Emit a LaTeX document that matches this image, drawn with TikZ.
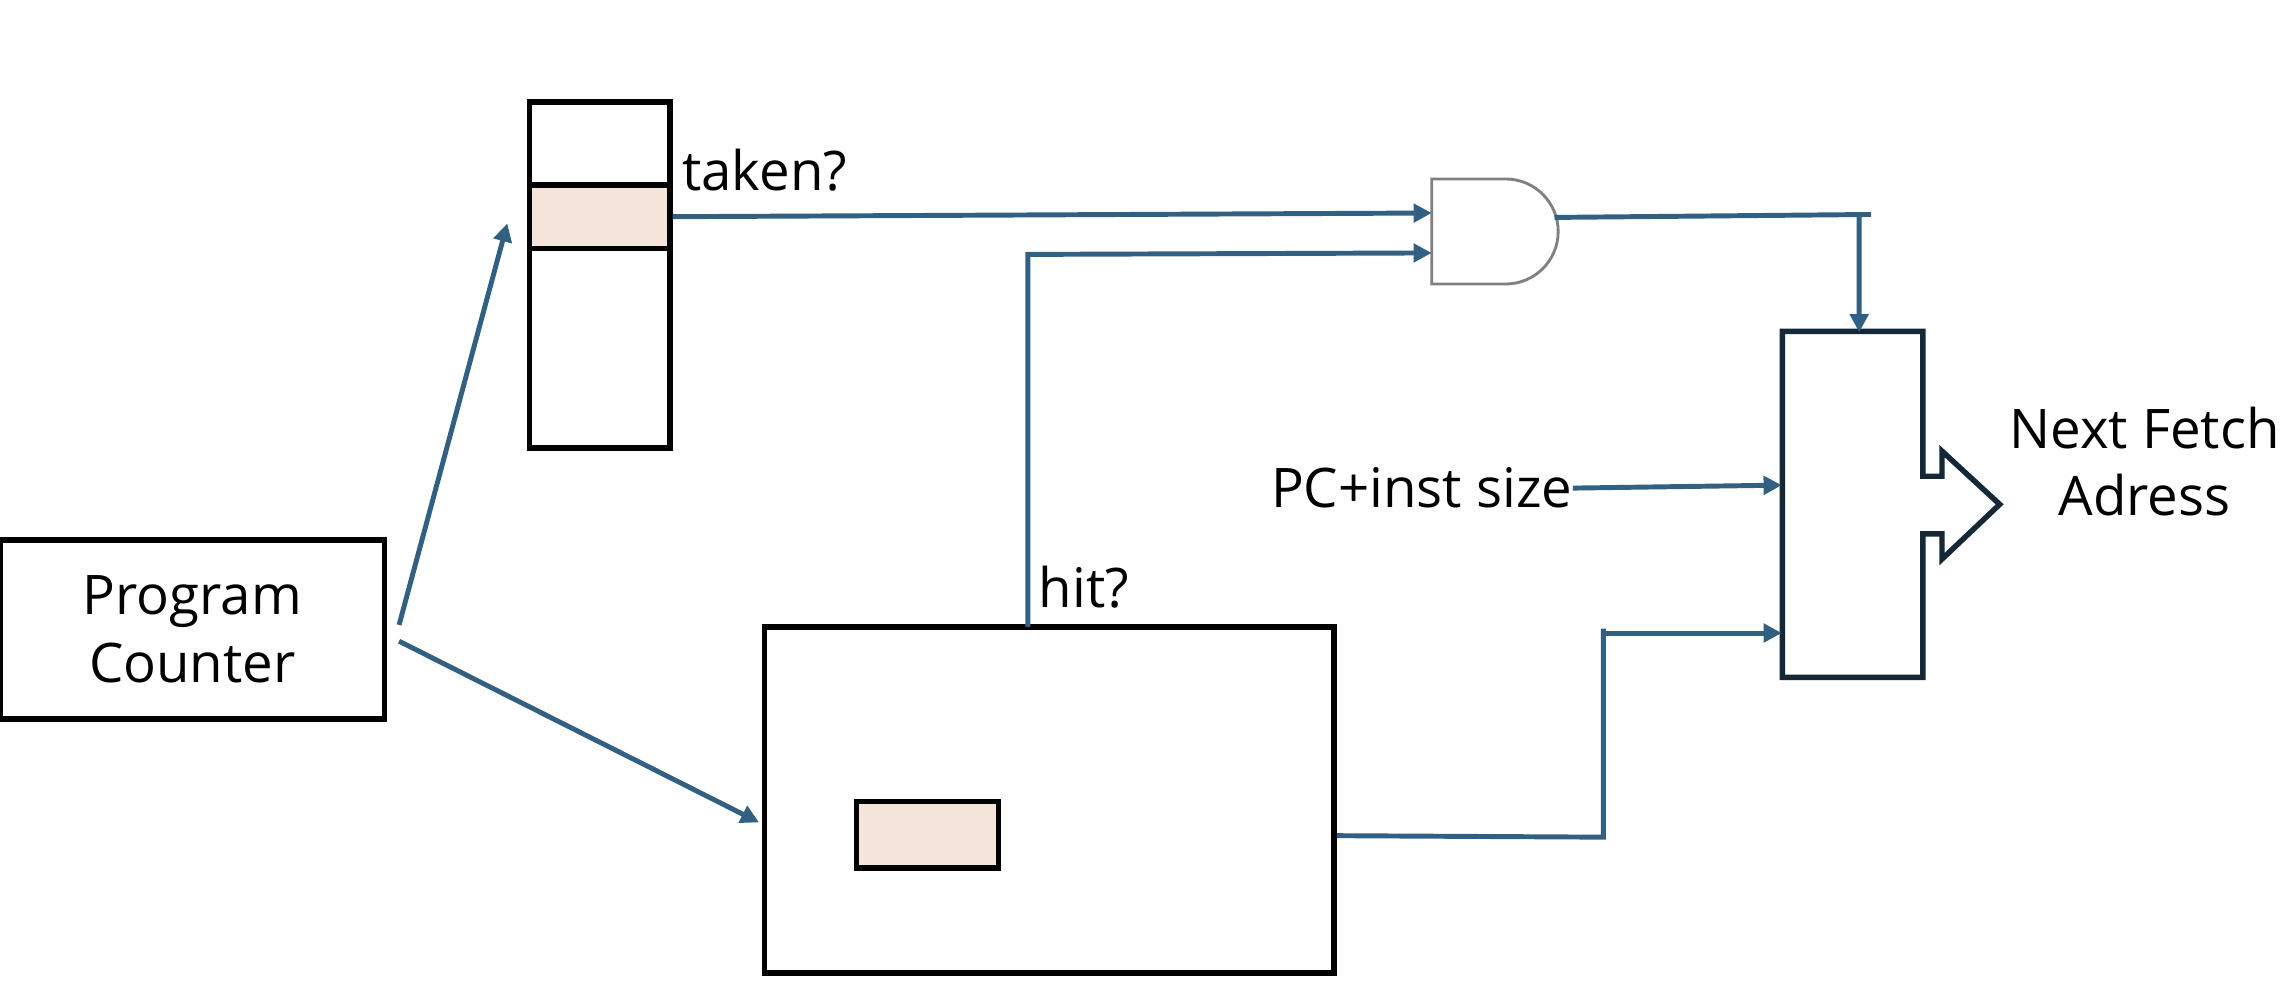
\documentclass[tikz,border=0pt]{standalone}
\usepackage{fontspec}
\setmainfont{Open Sans}
\usetikzlibrary{arrows.meta,calc}
\definecolor{wire}{RGB}{49,96,130}
\definecolor{peach}{RGB}{245,228,218}
\definecolor{navy}{RGB}{20,40,56}
\definecolor{gategray}{RGB}{128,128,128}
\tikzset{
  box/.style={draw=black,line width=2.1pt,inner sep=0pt,fill=white},
  conn/.style={draw=wire,line width=1.9pt},
  tip/.style={-{Triangle[length=7pt,width=7pt]}},
  lbl/.style={font=\fontsize{21}{26}\selectfont,inner sep=0pt,text=black}
}
\begin{document}
\begin{tikzpicture}[x=0.02cm,y=-0.02cm]
\useasboundingbox (0,0) rectangle (1551,664);
% Program counter
\node[box,minimum width=5.2cm,minimum height=2.42cm,align=center,lbl] (pc) at (130,425.5) {Program\\Counter};
% branch history table
\node[box,minimum width=1.9cm,minimum height=4.68cm] (bht) at (405.5,186) {};
\node[box,fill=peach,minimum width=1.9cm,minimum height=0.86cm] (cell) at (405.5,146.5) {};
\node[lbl,anchor=west] (taken) at (461,115) {taken?};
% branch target buffer
\node[box,minimum width=7.7cm,minimum height=4.68cm] (btb) at (709.5,541) {};
\node[box,fill=peach,minimum width=1.92cm,minimum height=0.9cm] (entry) at (627,564.5) {};
\node[lbl,anchor=west] (hit) at (702,397) {hit?};
% AND gate
\coordinate (gin1) at (968,144);
\coordinate (gin2) at (968,171);
\coordinate (gout) at (1051,147);
\draw[gategray,line width=1.1pt] (968,121) -- (1018,121) arc[start angle=-90,end angle=90,radius=35.5] -- (968,192) -- cycle;
% mux
\node[minimum width=1.9cm,minimum height=4.68cm,inner sep=0pt] (mux) at (1252.5,341) {};
\draw[navy,line width=2.1pt,line join=miter] (1205,224) -- (1300,224) -- (1300,322) -- (1313,322) -- (1313,305) -- (1352,341) -- (1313,378) -- (1313,361) -- (1300,361) -- (1300,458) -- (1205,458) -- cycle;
\node[lbl,align=center] (nfa) at (1450,312) {Next Fetch\\Adress};
\node[lbl,anchor=west] (pcinst) at (859,330) {PC+inst size};
% connectors
\coordinate (pcup) at ($(pc.east)+(8,-3)$);
\coordinate (pcdn) at ($(pc.east)+(8,8)$);
\coordinate (bhtin) at (343,151);
\draw[conn,tip] (pcup) -- (bhtin);
\draw[conn,tip] (pcdn) -- ($(btb.west)+(-2,15)$);
\draw[conn,tip] (cell.east) -- (gin1);
\coordinate (hitfoot) at (695,424);
\draw[conn,tip] (hitfoot) -- (695,172) -- (gin2);
\coordinate (gend) at (1265,145);
\draw[conn] (gout) -- (gend);
\draw[conn,tip] (1257,145) -- ($(mux.north)+(4.5,1)$);
\draw[conn,tip] (pcinst.east) -- ($(mux.west)+(0,-13)$);
\coordinate (btbout) at ($(btb.east)+(0,24)$);
\draw[conn] (btbout) -- (1084,566) -- (1084,425);
\draw[conn,tip] (1086,428) -- ($(mux.west)+(0,87)$);
\end{tikzpicture}
\end{document}
